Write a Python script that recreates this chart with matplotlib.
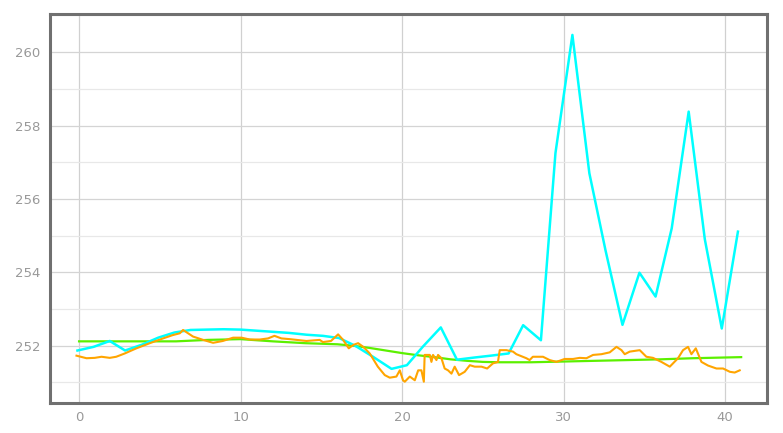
import matplotlib
matplotlib.use("Agg")
import matplotlib.pyplot as plt
from matplotlib.ticker import MultipleLocator

# ---- data ----
cyan_x = [-0.1, 0.9, 1.9, 2.85, 3.9, 4.9, 5.9, 6.9, 7.9, 8.95, 10.0, 11.0, 12.0, 13.0,
          14.1, 15.1, 16.1, 17.1, 18.2, 19.35, 20.3, 21.3, 22.4, 23.4, 24.5, 25.5, 26.6,
          27.5, 28.6, 29.5, 30.55, 31.6, 32.6, 33.65, 34.7, 35.7, 36.7, 37.75, 38.75,
          39.8, 40.8]
cyan_y = [251.87, 251.97, 252.13, 251.87, 252.03, 252.22, 252.36, 252.43, 252.44, 252.45,
          252.44, 252.41, 252.38, 252.35, 252.30, 252.27, 252.21, 252.00, 251.70, 251.37,
          251.47, 251.98, 252.50, 251.62, 251.68, 251.73, 251.79, 252.56, 252.15, 257.25,
          260.47, 256.70, 254.60, 252.57, 253.99, 253.34, 255.20, 258.38, 254.90, 252.47,
          255.11]

green_x = [0, 3, 6, 8, 10, 12, 14, 16, 17, 18, 19, 20, 21, 22, 23, 24, 25, 26, 28, 30,
           32, 34, 36, 38, 41]
green_y = [252.12, 252.12, 252.12, 252.16, 252.18, 252.12, 252.07, 252.04, 252.00, 251.94,
           251.87, 251.80, 251.74, 251.69, 251.63, 251.59, 251.56, 251.55, 251.55, 251.57,
           251.59, 251.61, 251.63, 251.66, 251.69]

orange_x = [-0.16, 0.46, 0.97, 1.39, 1.9, 2.3, 2.83, 3.55, 4.38, 5.2, 5.8, 6.24, 6.44,
            7.06, 7.68, 8.3, 8.9, 9.54, 10.06, 10.57, 11.2, 11.7, 12.1, 12.53, 13.05,
            14.08, 14.9, 15.1, 15.6, 16.04, 16.35, 16.7, 16.97, 17.28, 17.6, 18.0, 18.5,
            18.93, 19.24, 19.65, 19.86, 20.06, 20.17, 20.48, 20.79, 21.0, 21.2, 21.35,
            21.4, 21.72, 21.82, 21.92, 22.13, 22.23, 22.44, 22.64, 22.85, 23.06, 23.26,
            23.53, 23.88, 24.2, 24.5, 24.92, 25.27, 25.63, 25.94, 26.05, 26.46, 26.87,
            27.08, 27.7, 27.9, 28.1, 28.73, 29.14, 29.56, 30.07, 30.59, 31.0, 31.42,
            31.83, 32.35, 32.86, 33.28, 33.59, 33.79, 34.1, 34.72, 35.13, 35.54, 36.06,
            36.58, 37.09, 37.4, 37.71, 37.92, 38.19, 38.54, 38.95, 39.47, 39.88, 40.3,
            40.6, 40.91]
orange_y = [251.73, 251.66, 251.67, 251.70, 251.67, 251.70, 251.79, 251.93, 252.07, 252.20,
            252.29, 252.34, 252.43, 252.25, 252.16, 252.08, 252.13, 252.22, 252.22, 252.17,
            252.17, 252.20, 252.27, 252.20, 252.18, 252.13, 252.16, 252.10, 252.13, 252.31,
            252.16, 251.93, 252.02, 252.07, 251.97, 251.79, 251.43, 251.20, 251.13, 251.16,
            251.33, 251.06, 251.02, 251.16, 251.06, 251.33, 251.33, 251.02, 251.75, 251.75,
            251.56, 251.75, 251.61, 251.75, 251.66, 251.38, 251.33, 251.24, 251.43, 251.20,
            251.29, 251.47, 251.43, 251.43, 251.38, 251.52, 251.56, 251.88, 251.88, 251.84,
            251.77, 251.66, 251.61, 251.70, 251.70, 251.61, 251.56, 251.64, 251.64, 251.67,
            251.66, 251.75, 251.77, 251.82, 251.97, 251.88, 251.77, 251.84, 251.88, 251.70,
            251.67, 251.56, 251.43, 251.66, 251.88, 251.97, 251.77, 251.93, 251.56, 251.46,
            251.38, 251.38, 251.29, 251.27, 251.33]

x_ticks = [0, 10, 20, 30, 40]
y_ticks = [252, 254, 256, 258, 260]

# ---- figure ----
fig = plt.figure(figsize=(7.83, 4.33), dpi=100)
ax = fig.add_axes([50 / 783, 1 - 403 / 433, (767 - 50) / 783, (403 - 14) / 433])

ax.plot(green_x, green_y, color="#5cf000", lw=1.6, zorder=3, solid_joinstyle="round")
ax.plot(cyan_x, cyan_y, color="#00ffff", lw=1.8, zorder=4, solid_joinstyle="round")
ax.plot(orange_x, orange_y, color="#ffa500", lw=1.5, zorder=5, solid_joinstyle="round")

ax.set_xlim(-1.8, 42.6)
ax.set_ylim(250.44, 261.04)

ax.set_xticks(x_ticks)
ax.set_yticks(y_ticks)
ax.yaxis.set_minor_locator(MultipleLocator(1))

ax.grid(True, which="major", axis="x", color="#d0d0d0", lw=0.9, zorder=0)
ax.grid(True, which="major", axis="y", color="#d4d4d4", lw=0.9, zorder=0)
ax.grid(True, which="minor", axis="y", color="#e8e8e8", lw=0.9, zorder=0)

ax.tick_params(axis="both", which="both", length=0, labelcolor="#999999", labelsize=9.5)
ax.tick_params(axis="y", pad=7)
ax.tick_params(axis="x", pad=6)

for s in ax.spines.values():
    s.set_color("#707070")
    s.set_linewidth(2.2)

fig.savefig("out.png", dpi=100)
